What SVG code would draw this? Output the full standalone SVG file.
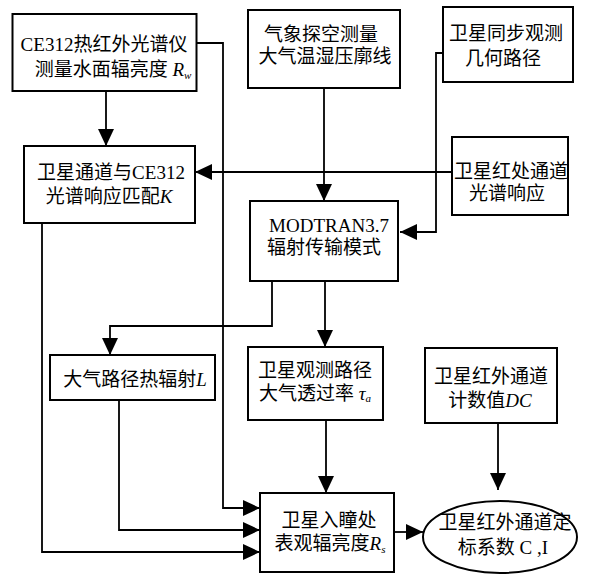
<svg xmlns="http://www.w3.org/2000/svg" width="593" height="576" viewBox="0 0 593 576">
<style>
.box{fill:#fff;stroke:#000;stroke-width:2}
.ln{fill:none;stroke:#000;stroke-width:1.8;marker-end:url(#ah)}
.pl{fill:none;stroke:#000;stroke-width:1.8}
text{font-family:"Liberation Serif","Noto Sans CJK SC",serif;font-size:19px;fill:#000;text-anchor:middle}
.it{font-style:italic}
.sub{font-size:11px;font-style:italic}
</style>
<defs>
<marker id="ah" markerUnits="userSpaceOnUse" markerWidth="18" markerHeight="16" refX="17" refY="8" orient="auto" viewBox="0 0 18 16"><path d="M0,0 L17,8 L0,16 Z" fill="#000"/></marker>
</defs>
<rect width="593" height="576" fill="#fff"/>
<g id="connectors">
<path class="ln" d="M106,91 V146"/>
<path class="ln" d="M452,172 H195"/>
<path class="ln" d="M324,88 V201"/>
<path class="ln" d="M443,53 H436 V232 H400"/>
<path class="ln" d="M272,281 V326 H110 V355"/>
<path class="ln" d="M325,281 V347"/>
<path class="ln" d="M196,43 H223 V508 H260"/>
<path class="ln" d="M119,400 V530 H260"/>
<path class="ln" d="M42,223 V552 H260"/>
<path class="ln" d="M326,420 V493"/>
<path class="ln" d="M498,423 V490"/>
<path class="ln" d="M394,532 H423"/>
</g>
<g id="n1"><rect class="box" x="12.5" y="14" width="184" height="77"/>
<text x="104" y="51">CE312热红外光谱仪</text>
<text x="113" y="76">测量水面辐亮度 <tspan class="it">R</tspan><tspan class="sub" dy="3">w</tspan></text></g>
<g id="n2"><rect class="box" x="24" y="146" width="171" height="77"/>
<text x="111" y="179">卫星通道与CE312</text>
<text x="109" y="203">光谱响应匹配<tspan class="it">K</tspan></text></g>
<g id="n3"><rect class="box" x="248" y="10" width="152" height="78"/>
<text x="321" y="41">气象探空测量</text>
<text x="325" y="63">大气温湿压廓线</text></g>
<g id="n4"><rect class="box" x="443" y="7" width="130" height="75"/>
<text x="506" y="40">卫星同步观测</text>
<text x="503" y="65">几何路径</text></g>
<g id="n5"><rect class="box" x="452" y="137" width="116" height="78"/>
<text x="511" y="178">卫星红处通道</text>
<text x="507" y="200">光谱响应</text></g>
<g id="n6"><rect class="box" x="250" y="201" width="148" height="80"/>
<text x="329" y="232">MODTRAN3.7</text>
<text x="324" y="254">辐射传输模式</text></g>
<g id="n7"><rect class="box" x="50" y="355" width="165" height="45"/>
<text x="135" y="386">大气路径热辐射<tspan class="it">L</tspan></text></g>
<g id="n8"><rect class="box" x="248" y="347" width="135" height="73"/>
<text x="315" y="377">卫星观测路径</text>
<text x="315" y="400">大气透过率 <tspan class="it">τ</tspan><tspan class="sub" dy="2">a</tspan></text></g>
<g id="n9"><rect class="box" x="425" y="348" width="132" height="75"/>
<text x="491" y="383">卫星红外通道</text>
<text x="490" y="407">计数值<tspan class="it">DC</tspan></text></g>
<g id="n10"><rect class="box" x="260" y="493" width="134" height="79"/>
<text x="329" y="527">卫星入瞳处</text>
<text x="330" y="550">表观辐亮度<tspan class="it">R</tspan><tspan class="sub" dy="3">s</tspan></text></g>
<g id="n11"><ellipse class="box" cx="500" cy="537" rx="77" ry="36"/>
<text x="505" y="529">卫星红外通道定</text>
<text x="503" y="554">标系数 C ,I</text></g>
</svg>
